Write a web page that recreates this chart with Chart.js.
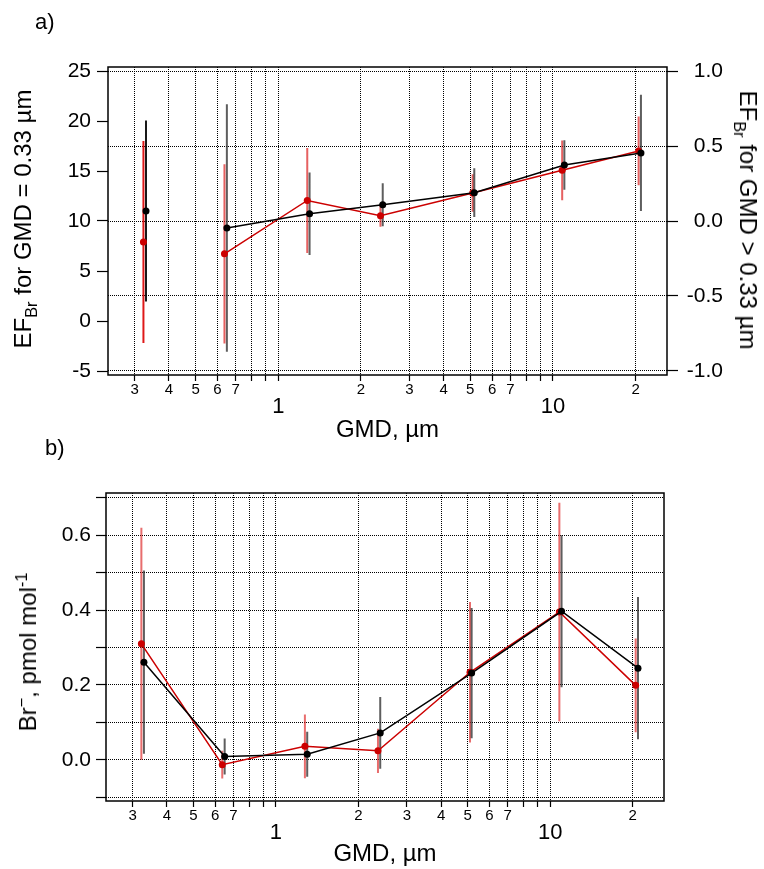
<!DOCTYPE html>
<html>
<head>
<meta charset="utf-8">
<script src="https://cdn.jsdelivr.net/npm/chart.js@4.4.1/dist/chart.umd.min.js"></script>
<style>
body { margin: 0; background: #fff; }
#wrap { position: relative; width: 764px; height: 869px; font-family: "Liberation Sans", Arial, sans-serif; color: #000; }
canvas { position: absolute; left: 0; }
.lbl { position: absolute; font-size: 22px; line-height: 22px; }
.ytitle { position: absolute; font-size: 24px; line-height: 24px; white-space: nowrap; }
.ytitle sub, .ytitle sup { font-size: 0.68em; line-height: 0; vertical-align: baseline; position: relative; }
.ytitle sub { top: 0.35em; }
.ytitle sup { top: -0.55em; }
</style>
</head>
<body>
<div id="wrap">
<canvas id="chartA" width="764" height="445" style="top:0"></canvas>
<canvas id="chartB" width="764" height="424" style="top:445px"></canvas>
<div class="lbl" style="left:35px;top:11px">a)</div>
<div class="lbl" style="left:45px;top:437px">b)</div>
<div class="ytitle" style="left:23px;top:219px;transform:translate(-50%,-50%) rotate(-90deg)">EF<sub>Br</sub> for GMD = 0.33 µm</div>
<div class="ytitle" style="left:748px;top:220px;transform:translate(-50%,-50%) rotate(90deg)">EF<sub>Br</sub> for GMD &gt; 0.33 µm</div>
<div class="ytitle" style="left:28px;top:652px;transform:translate(-50%,-50%) rotate(-90deg)">Br<sup>−</sup>, pmol mol<sup>-1</sup></div>
</div>
<script>
// GMD of each size bin (red points sit slightly left of black ones)
const gmdBlack = [0.33, 0.65, 1.30, 2.40, 5.17, 11.0, 20.9];
const gmdRed = [0.323, 0.637, 1.275, 2.355, 5.10, 10.8, 20.5];

// a) EF_Br: first value read on left axis, the others on right axis
const efBlack = [11.0, -0.046, 0.048, 0.108, 0.189, 0.373, 0.454];
const efBlackErr = [9.05, 0.825, 0.275, 0.143, 0.162, 0.165, 0.387];
const efRed = [7.9, -0.219, 0.137, 0.035, 0.186, 0.338, 0.467];
const efRedErr = [10.1, 0.597, 0.35, 0.073, 0.125, 0.199, 0.229];

// b) Br-, pmol/mol
const brBlack = [0.261, 0.009, 0.015, 0.072, 0.232, 0.397, 0.245];
const brBlackErr = [0.245, 0.048, 0.06, 0.096, 0.174, 0.203, 0.19];
const brRed = [0.310, -0.013, 0.036, 0.024, 0.234, 0.395, 0.199];
const brRedErr = [0.31, 0.037, 0.085, 0.059, 0.188, 0.292, 0.125];

const gmdTicks = [0.3, 0.4, 0.5, 0.6, 0.7, 0.8, 0.9, 1, 2, 3, 4, 5, 6, 7, 8, 9, 10, 20];
const gmdTickLabels = ['3', '4', '5', '6', '7', '', '', '1', '2', '3', '4', '5', '6', '7', '', '', '10', '2'];

Chart.defaults.font.family = '"Liberation Sans", Arial, sans-serif';
Chart.defaults.color = '#000';

const RED = '#cc0000';
const BLACK = '#000000';
const GRID_DASH = [1, 1];

function points(xs, ys, from, to) {
    let out = [];
    for (let i = from; i < to; i++) out.push({x: xs[i], y: ys[i]});
    return out;
}

function errorBars(xs, ys, errs, from, to) {
    let out = [];
    for (let i = from; i < to; i++) {
	out.push({x: xs[i], y: ys[i] - errs[i]});
	out.push({x: xs[i], y: ys[i] + errs[i]});
	out.push({x: xs[i], y: null});
    }
    return out;
}

function lineSet(data, color, axis) {
    return {data: data, yAxisID: axis, showLine: true, borderColor: color, backgroundColor: color,
	    borderWidth: 1.5, pointRadius: 3.5, pointHoverRadius: 3.5, pointBorderWidth: 0, spanGaps: false};
}

function errSet(data, color, axis) {
    return {data: data, yAxisID: axis, showLine: true, borderColor: color, borderWidth: 2,
	    pointRadius: 0, pointHoverRadius: 0, spanGaps: false};
}

function isMajor(v) {
    let l = Math.log10(v);
    return Math.abs(l - Math.round(l)) < 1e-9;
}

function gmdAxis(height) {
    return {
	type: 'logarithmic',
	position: 'bottom',
	min: 0.24,
	max: 26,
	afterBuildTicks: s => { s.ticks = gmdTicks.map(v => ({value: v})); },
	afterFit: s => { s.height = height; },
	ticks: {
	    autoSkip: false, maxRotation: 0, minRotation: 0, padding: 0,
	    callback: v => {
		let i = gmdTicks.findIndex(t => Math.abs(t - v) < 1e-9);
		let l = i < 0 ? '' : gmdTickLabels[i];
		return isMajor(v) ? ['', l] : l;
	    },
	    font: c => (c.tick && isMajor(c.tick.value)) ? {size: 22, lineHeight: 0.8} : {size: 15, lineHeight: 1.2}
	},
	grid: {color: '#000', lineWidth: 1, tickLength: 6, tickColor: '#000', tickWidth: 1.2},
	border: {display: false, dash: GRID_DASH},
	title: {display: true, text: 'GMD, µm', font: {size: 24, lineHeight: 1}, padding: {top: 0, bottom: 3}}
    };
}

const frame = {
    id: 'frame',
    afterDraw(chart) {
	const a = chart.chartArea, c = chart.ctx;
	c.save();
	c.strokeStyle = '#000';
	c.lineWidth = 1.5;
	c.strokeRect(a.left, a.top, a.right - a.left, a.bottom - a.top);
	c.restore();
    }
};

const common = {
    responsive: false,
    animation: false,
    devicePixelRatio: 1,
    plugins: {legend: {display: false}, tooltip: {enabled: false}}
};

new Chart(document.getElementById('chartA').getContext('2d'), {
    type: 'scatter',
    data: {
	datasets: [
	    lineSet(points(gmdBlack, efBlack, 1, 7), BLACK, 'yR'),
	    lineSet(points(gmdRed, efRed, 1, 7), RED, 'yR'),
	    lineSet(points(gmdBlack, efBlack, 0, 1), BLACK, 'yL'),
	    lineSet(points(gmdRed, efRed, 0, 1), RED, 'yL'),
	    errSet(errorBars(gmdBlack, efBlack, efBlackErr, 1, 7), 'rgba(40,40,40,0.75)', 'yR'),
	    errSet(errorBars(gmdBlack, efBlack, efBlackErr, 0, 1), 'rgba(0,0,0,0.9)', 'yL'),
	    errSet(errorBars(gmdRed, efRed, efRedErr, 1, 7), 'rgba(220,30,30,0.7)', 'yR'),
	    errSet(errorBars(gmdRed, efRed, efRedErr, 0, 1), 'rgba(220,0,0,0.9)', 'yL')
	]
    },
    options: Object.assign({}, common, {
	layout: {padding: {top: 67, left: 0, right: 41, bottom: 0}},
	scales: {
	    x: gmdAxis(70),
	    yL: {
		position: 'left', min: -5.4, max: 25.4,
		afterFit: s => { s.width = 108; },
		ticks: {stepSize: 5, includeBounds: false, padding: 6, font: {size: 21}},
		grid: {drawOnChartArea: false, tickLength: 11, tickColor: '#000', tickWidth: 1.2},
		border: {display: false}
	    },
	    yR: {
		position: 'right', min: -1.0267, max: 1.0267,
		afterFit: s => { s.width = 56; },
		ticks: {
		    stepSize: 0.5, includeBounds: false, padding: 4, crossAlign: 'far', font: {size: 21},
		    callback: v => Math.abs(v) < 1e-9 ? '0.0' : v.toFixed(1)
		},
		grid: {color: '#000', lineWidth: 1, tickLength: 11, tickColor: '#000', tickWidth: 1.2},
		border: {display: false, dash: GRID_DASH}
	    }
	}
    }),
    plugins: [frame]
});

new Chart(document.getElementById('chartB').getContext('2d'), {
    type: 'scatter',
    data: {
	datasets: [
	    lineSet(points(gmdBlack, brBlack, 0, 7), BLACK, 'y'),
	    lineSet(points(gmdRed, brRed, 0, 7), RED, 'y'),
	    errSet(errorBars(gmdBlack, brBlack, brBlackErr, 0, 7), 'rgba(40,40,40,0.75)', 'y'),
	    errSet(errorBars(gmdRed, brRed, brRedErr, 0, 7), 'rgba(220,30,30,0.65)', 'y')
	]
    },
    options: Object.assign({}, common, {
	layout: {padding: {top: 48, left: 0, right: 100, bottom: 0}},
	scales: {
	    x: gmdAxis(68),
	    y: {
		position: 'left', min: -0.11, max: 0.713,
		afterFit: s => { s.width = 106; },
		ticks: {
		    stepSize: 0.1, includeBounds: false, padding: 5, font: {size: 21},
		    callback: v => {
			let k = Math.round(v * 10);
			return k % 2 === 0 ? (k / 10).toFixed(1) : '';
		    }
		},
		grid: {color: '#000', lineWidth: 1, tickLength: 10, tickColor: '#000', tickWidth: 1.2},
		border: {display: false, dash: GRID_DASH}
	    }
	}
    }),
    plugins: [frame]
});
</script>
</body>
</html>
